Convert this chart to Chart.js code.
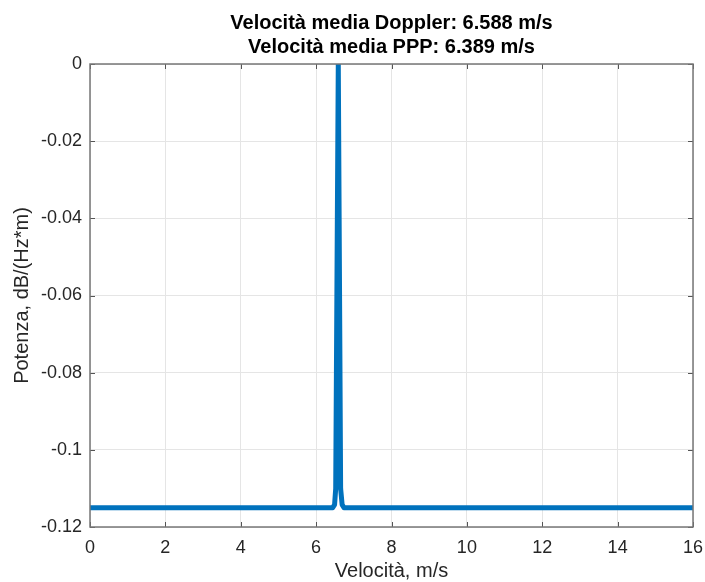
<!DOCTYPE html>
<html>
<head>
<meta charset="utf-8">
<script src="https://cdn.jsdelivr.net/npm/chart.js@4"></script>
<style>
  html, body { margin: 0; padding: 0; background: #fff; }
  #wrap { width: 705px; height: 582px; }
</style>
</head>
<body>
<div id="wrap"><canvas id="spectrum" width="705" height="582"></canvas></div>
<script>
// Spectrum data
const velocity = [0, 6.44, 6.49, 6.52, 6.588, 6.65, 6.69, 6.74, 16];
const power = [-0.115, -0.115, -0.1142, -0.11, 0, -0.11, -0.1142, -0.115, -0.115];

const xTicks = [0, 2, 4, 6, 8, 10, 12, 14, 16];
const yTicks = [0, -0.02, -0.04, -0.06, -0.08, -0.1, -0.12];
const yTickLabels = ['0', '-0.02', '-0.04', '-0.06', '-0.08', '-0.1', '-0.12'];

const titleLines = ['Velocità media Doppler: 6.588 m/s', 'Velocità media PPP: 6.389 m/s'];

const FONT = "'Liberation Sans', Arial, Helvetica, sans-serif";
const axisColor = '#262626';

// MATLAB style: ticks pointing inward on all four sides + box
const boxTicks = {
    id: 'boxTicks',
    afterDraw(chart) {
        const { ctx, chartArea: a, scales } = chart;
        const len = 5;
        ctx.save();
        ctx.strokeStyle = '#555';
        ctx.lineWidth = 1;
        ctx.beginPath();
        xTicks.forEach(v => {
            const px = Math.round(scales.x.getPixelForValue(v)) + 0.5;
            ctx.moveTo(px, a.bottom); ctx.lineTo(px, a.bottom - len);
            ctx.moveTo(px, a.top); ctx.lineTo(px, a.top + len);
        });
        yTicks.forEach(v => {
            const py = Math.round(scales.y.getPixelForValue(v)) + 0.5;
            ctx.moveTo(a.left, py); ctx.lineTo(a.left + len, py);
            ctx.moveTo(a.right, py); ctx.lineTo(a.right - len, py);
        });
        ctx.stroke();
        ctx.strokeStyle = '#777';
        ctx.lineWidth = 1.5;
        ctx.strokeRect(a.left, a.top, a.right - a.left, a.bottom - a.top);
        ctx.restore();
    }
};

new Chart(document.getElementById('spectrum'), {
    type: 'line',
    data: {
        datasets: [{
            data: velocity.map((v, i) => ({ x: v, y: power[i] })),
            borderColor: '#0072BD',
            borderWidth: 5,
            pointRadius: 0,
            tension: 0,
            borderJoinStyle: 'round',
            clip: 0
        }]
    },
    options: {
        responsive: false,
        animation: false,
        layout: { padding: { left: 0, right: 12, top: 0, bottom: 0 } },
        plugins: {
            legend: { display: false },
            tooltip: { enabled: false },
            title: {
                display: true,
                fullSize: false,
                text: titleLines,
                color: '#000',
                font: { family: FONT, size: 20, weight: 'bold', lineHeight: 1.225 },
                padding: { top: 11, bottom: 4 }
            }
        },
        scales: {
            x: {
                type: 'linear',
                min: 0,
                max: 16,
                afterBuildTicks: s => { s.ticks = xTicks.map(v => ({ value: v })); },
                afterFit: s => { s.height = 55; s.paddingLeft = 0; s.paddingRight = 0; },
                grid: { color: '#e5e5e5', drawTicks: false, lineWidth: 1 },
                border: { display: false },
                ticks: {
                    color: axisColor,
                    padding: 10,
                    maxRotation: 0,
                    font: { family: FONT, size: 18 }
                },
                title: {
                    display: true,
                    text: 'Velocità, m/s',
                    color: axisColor,
                    padding: { top: 0, bottom: 0 },
                    font: { family: FONT, size: 20, lineHeight: 1.1 }
                }
            },
            y: {
                min: -0.12,
                max: 0,
                afterBuildTicks: s => { s.ticks = yTicks.map(v => ({ value: v })); },
                afterFit: s => { s.width = 90; s.paddingTop = 0; s.paddingBottom = 0; },
                grid: { color: '#e5e5e5', drawTicks: false, lineWidth: 1 },
                border: { display: false },
                ticks: {
                    color: axisColor,
                    padding: 8,
                    font: { family: FONT, size: 18 },
                    callback: (v) => yTickLabels[yTicks.indexOf(v)] ?? ''
                },
                title: {
                    display: true,
                    text: 'Potenza, dB/(Hz*m)',
                    color: axisColor,
                    padding: { top: 10, bottom: 0 },
                    font: { family: FONT, size: 20, lineHeight: 1.2 }
                }
            }
        }
    },
    plugins: [boxTicks]
});
</script>
</body>
</html>
